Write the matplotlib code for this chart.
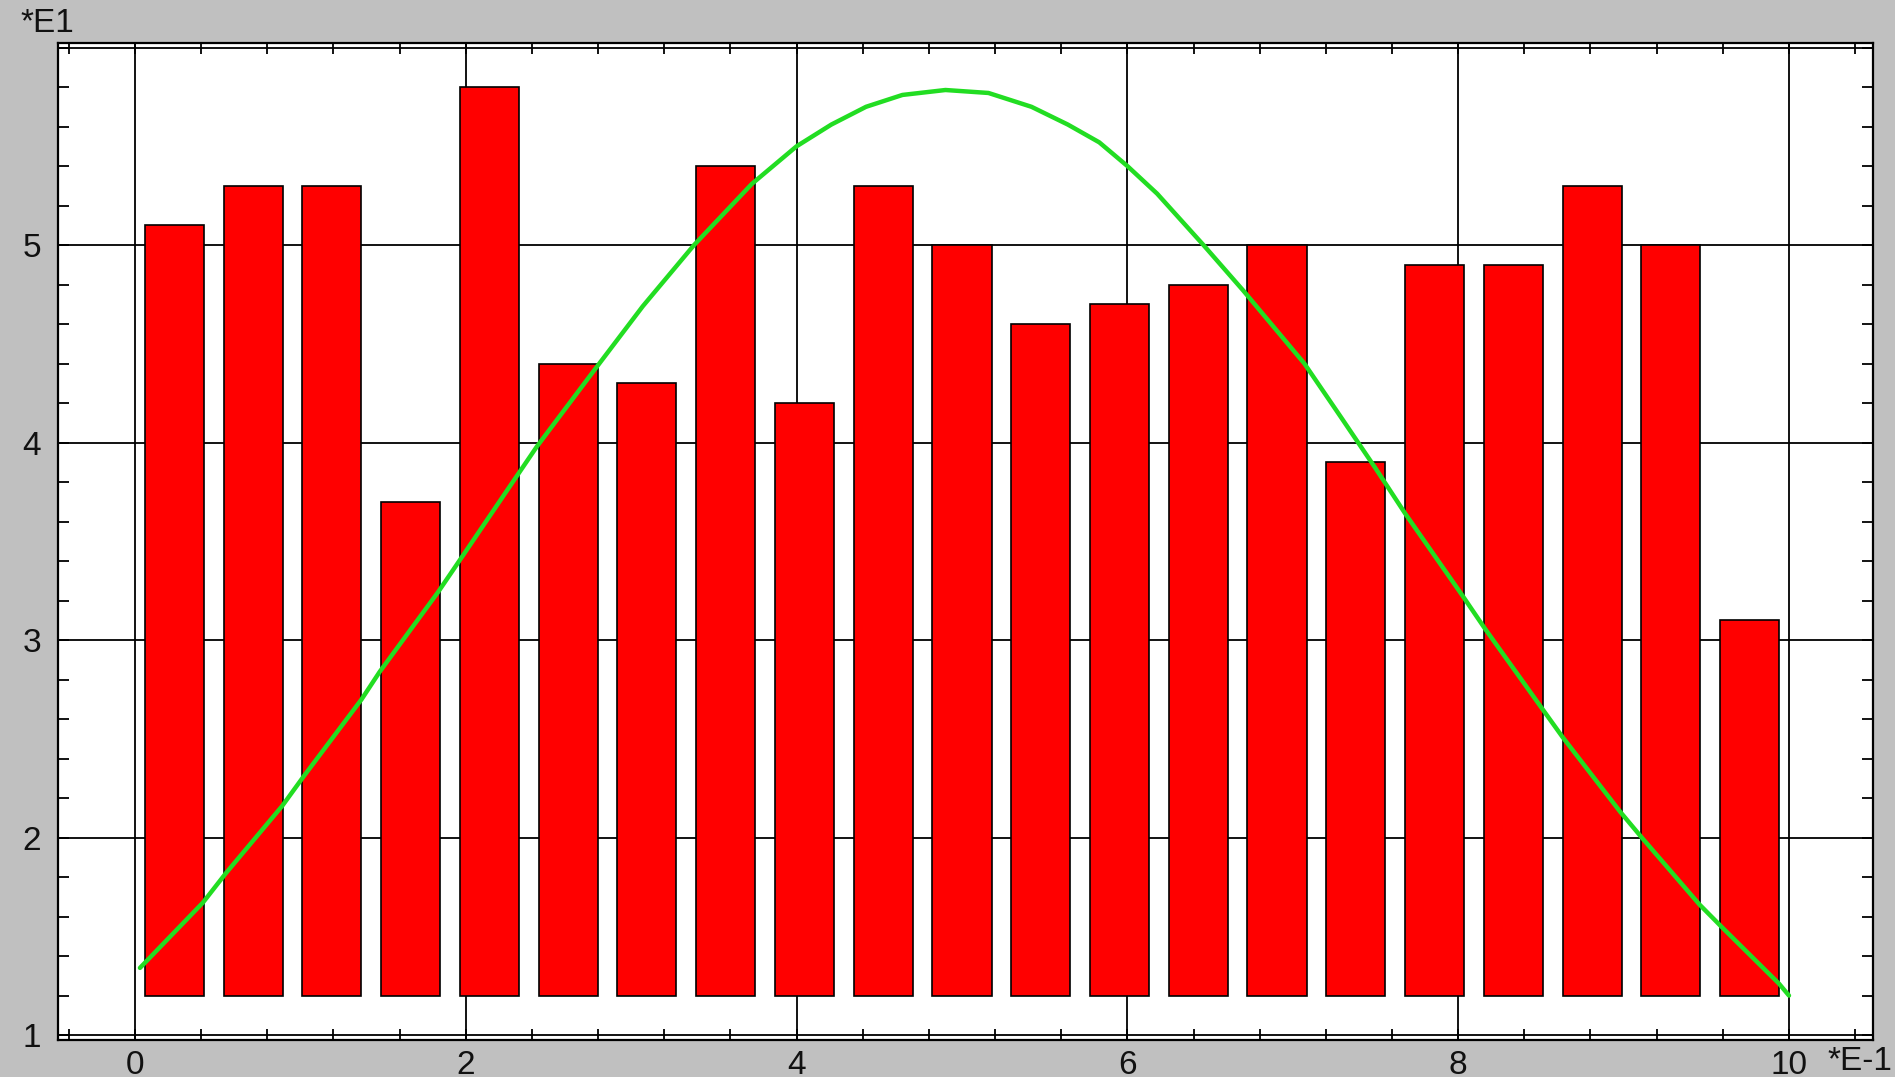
import numpy as np
import matplotlib
matplotlib.use("Agg")
import matplotlib.pyplot as plt
from matplotlib.ticker import MultipleLocator, FixedLocator, NullFormatter

plt.rcParams['font.family'] = ['Liberation Sans', 'DejaVu Sans']

# histogram: 21 classes over 0..10 (x scaled *E-1), tops scaled *E1
bin_edges = np.linspace(0, 10, 22)
bar_tops = [5.1, 5.3, 5.3, 3.7, 5.8, 4.4, 4.3, 5.4, 4.2, 5.3, 5.0,
            4.6, 4.7, 4.8, 5.0, 3.9, 4.9, 4.9, 5.3, 5.0, 3.1]
bar_base = 1.2

# fitted density curve
curve_x = [0.03, 0.41, 0.55, 0.89, 1.02, 1.37, 1.48, 1.83, 1.96, 2.30,
           2.43, 2.78, 3.07, 3.38, 3.73, 4.00, 4.21, 4.42, 4.64, 4.90,
           5.16, 5.42, 5.64, 5.83, 6.00, 6.18, 6.46, 6.70, 7.07, 7.29,
           7.50, 7.68, 8.03, 8.16, 8.51, 8.63, 8.98, 9.11, 9.46, 9.59,
           9.94, 10.0]
curve_y = [1.34, 1.67, 1.82, 2.16, 2.31, 2.70, 2.84, 3.24, 3.40, 3.82,
           3.98, 4.37, 4.69, 5.00, 5.31, 5.50, 5.61, 5.70, 5.76, 5.785,
           5.77, 5.70, 5.61, 5.52, 5.40, 5.26, 5.00, 4.77, 4.40, 4.13,
           3.87, 3.64, 3.22, 3.06, 2.65, 2.51, 2.13, 2.00, 1.66, 1.55,
           1.26, 1.20]

x_major = [0, 2, 4, 6, 8, 10]
y_major = [1, 2, 3, 4, 5]

W, H = 1895, 1077
fig = plt.figure(figsize=(W / 100, H / 100), dpi=100, facecolor='#c0c0c0')
ax = fig.add_axes([58 / W, 1 - 1040 / H, (1873 - 58) / W, (1040 - 43) / H])
ax.set_facecolor('white')
ax.set_xlim(-0.4655, 10.508)
ax.set_ylim(0.975, 6.023)

centers = (bin_edges[:-1] + bin_edges[1:]) / 2
widths = 0.75 * np.diff(bin_edges)
heights = np.array(bar_tops) - bar_base
ax.bar(centers, heights, bottom=bar_base, width=widths, color='#ff0000',
       edgecolor='black', linewidth=1.2, zorder=2)

ax.plot(curve_x, curve_y, color='#22dd22', lw=3.2, zorder=3,
        solid_capstyle='round', solid_joinstyle='round')

# grid and the inner axis lines
ax.set_axisbelow(True)
ax.xaxis.set_major_locator(FixedLocator(x_major))
ax.yaxis.set_major_locator(FixedLocator(y_major))
ax.grid(True, which='major', color='black', lw=1.3)
ax.axhline(6.0, color='black', lw=1.3, zorder=1)

ax.xaxis.set_minor_locator(MultipleLocator(0.4))
ax.yaxis.set_minor_locator(MultipleLocator(0.2))
ax.yaxis.set_minor_formatter(NullFormatter())
ax.tick_params(which='both', direction='in', top=True, right=True,
               length=8, width=1.3, color='black')
ax.tick_params(axis='x', which='major', labelsize=24, pad=7,
               labelcolor='#111111')
ax.tick_params(axis='y', which='major', labelsize=24, pad=12,
               labelcolor='#111111')

for s in ax.spines.values():
    s.set_color('black')
    s.set_linewidth(1.6)

fig.text(20 / W, 1 - 24 / H, '*E1', fontsize=24, color='#111111',
         ha='left', va='center')
fig.text(1892 / W, 1 - 1061 / H, '*E-1', fontsize=24, color='#111111',
         ha='right', va='center')

fig.savefig('out.png', dpi=100, facecolor=fig.get_facecolor())
